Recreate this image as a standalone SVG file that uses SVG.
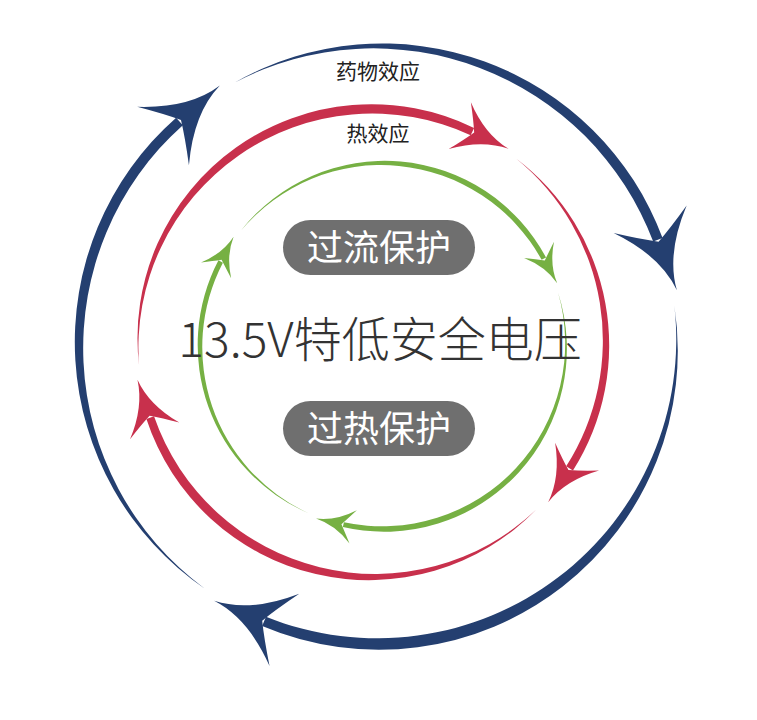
<svg xmlns="http://www.w3.org/2000/svg" width="757" height="720" viewBox="0 0 757 720">
<style>
.b{fill:#243f70}.r{fill:#c8304c}.g{fill:#76b043}
text{font-family:"Noto Sans CJK SC","Noto Sans",sans-serif;text-anchor:middle}
.lbl{font-size:21px;fill:#222}
.pill{fill:#6f6f6f}
.pt{font-size:36px;fill:#fff}
</style>
<defs>
<path id="ab" d="M299,54 Q302,16 338,-22 Q314,-6 299,2 Q284,-6 260,-22 Q296,16 299,54Z"/>
<path id="ar" d="M234,40 Q237,12 260,-14 Q245,-4 234,2 Q223,-4 208,-14 Q231,12 234,40Z"/>
<path id="ag" d="M183,28 Q185,8 200,-10 Q190,-3 183,2 Q176,-3 166,-10 Q181,8 183,28Z"/>
</defs>
<rect width="757" height="720" fill="#fff"/>
<g id="connectors">
<g class="b" transform="translate(378,345)">
<g transform="rotate(339.4)"><path d="M-41.6,-296.1 A299,299 0 0 1 304,0 L294,0 A299,299 0 0 0 -41.6,-296.1Z"/><use href="#ab"/></g>
<g transform="rotate(112.4)"><path d="M-149.5,-258.9 A299,299 0 0 1 304,0 L294,0 A299,299 0 0 0 -149.5,-258.9Z"/><use href="#ab"/></g>
<g transform="rotate(228.4)"><path d="M-67.3,-291.3 A299,299 0 0 1 304,0 L294,0 A299,299 0 0 0 -67.3,-291.3Z"/><use href="#ab"/></g>
</g>
<g class="r" transform="translate(372,343)">
<g transform="rotate(32.4)"><path d="M22.8,-232.9 A234,234 0 0 1 238,0 L230,0 A234,234 0 0 0 22.8,-232.9Z"/><use href="#ar"/></g>
<g transform="rotate(161.4)"><path d="M-102.6,-210.3 A234,234 0 0 1 238,0 L230,0 A234,234 0 0 0 -102.6,-210.3Z"/><use href="#ar"/></g>
<g transform="rotate(295.4)"><path d="M-120.5,-200.6 A234,234 0 0 1 238,0 L230,0 A234,234 0 0 0 -120.5,-200.6Z"/><use href="#ar"/></g>
</g>
<g class="g" transform="translate(383,346)">
<g transform="rotate(102.5)"><path d="M-90.1,-159.3 A183,183 0 0 1 185.5,0 L180.5,0 A183,183 0 0 0 -90.1,-159.3Z"/><use href="#ag"/></g>
<g transform="rotate(207.5)"><path d="M-11.2,-182.7 A183,183 0 0 1 185.5,0 L180.5,0 A183,183 0 0 0 -11.2,-182.7Z"/><use href="#ag"/></g>
<g transform="rotate(331.5)"><path d="M-70,-169.1 A183,183 0 0 1 185.5,0 L180.5,0 A183,183 0 0 0 -70,-169.1Z"/><use href="#ag"/></g>
</g>
</g>
<g id="label-drug"><text class="lbl" x="378" y="79">药物效应</text></g>
<g id="label-heat"><text class="lbl" x="378" y="141">热效应</text></g>
<g id="node-overcurrent"><rect class="pill" x="283" y="220" width="192" height="55" rx="27.5"/><text class="pt" x="379" y="261">过流保护</text></g>
<g id="node-main"><text x="380" y="357" font-size="48" fill="#333" font-weight="300">13.5V特低安全电压</text></g>
<g id="node-overheat"><rect class="pill" x="283" y="401" width="192" height="55" rx="27.5"/><text class="pt" x="379" y="442">过热保护</text></g>
</svg>
